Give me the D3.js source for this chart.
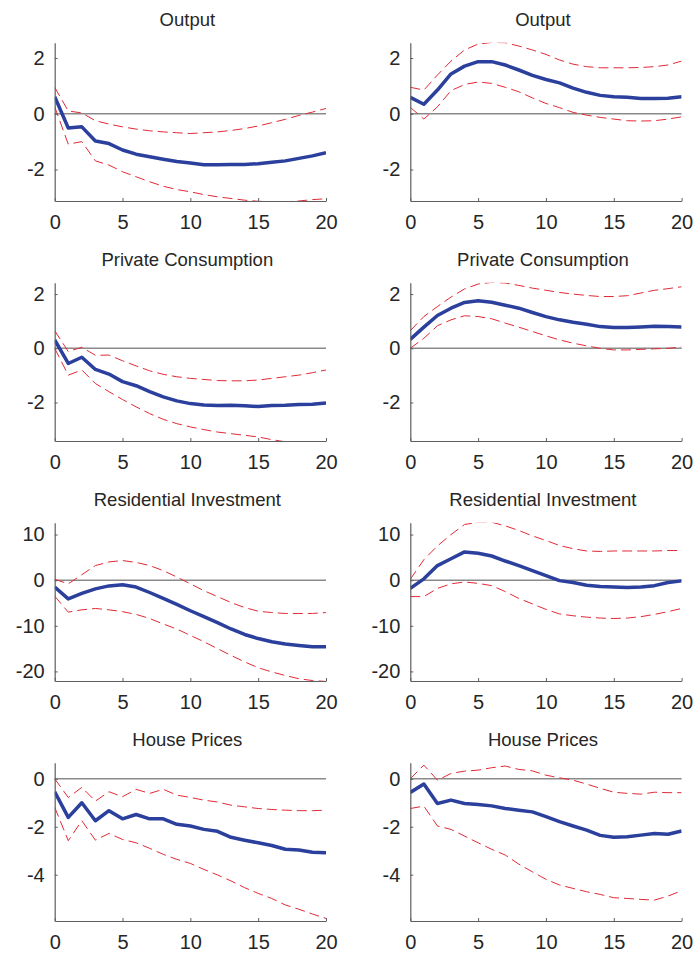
<!DOCTYPE html>
<html>
<head>
<meta charset="utf-8">
<script src="https://cdn.jsdelivr.net/npm/d3@7"></script>
<style>
  body { margin: 0; background: #fff; }
  svg { display: block; font-family: "Liberation Sans", Arial, sans-serif; }
  .tick text { fill: #262626; font-size: 20px; }
</style>
</head>
<body>
<div id="container"></div>
<script>
// horizon (quarters) and labels
const horizon = [0,1,2,3,4,5,6,7,8,9,10,11,12,13,14,15,16,17,18,19,20];
const titles = ["Output", "Private Consumption", "Residential Investment", "House Prices"];
const xTicks = [0, 5, 10, 15, 20];
const yTicks = [[-2, 0, 2], [-2, 0, 2], [-20, -10, 0, 10], [-4, -2, 0]];
const yLimits = [[-3.13, 2.55], [-3.42, 2.42], [-22.1, 12.6], [-5.93, 0.67]];

// left column: output
const outputL    = [0.61,-0.51,-0.47,-0.98,-1.07,-1.30,-1.45,-1.54,-1.63,-1.71,-1.77,-1.83,-1.83,-1.82,-1.82,-1.79,-1.74,-1.69,-1.60,-1.51,-1.40];
const outputLHi  = [0.95,0.10,0.03,-0.25,-0.37,-0.47,-0.55,-0.61,-0.65,-0.68,-0.71,-0.68,-0.65,-0.60,-0.53,-0.44,-0.32,-0.20,-0.06,0.06,0.19];
const outputLLo  = [0.25,-1.09,-1.00,-1.69,-1.84,-2.08,-2.26,-2.44,-2.60,-2.72,-2.80,-2.90,-2.98,-3.04,-3.10,-3.14,-3.16,-3.16,-3.13,-3.08,-3.05];
// right column: output
const outputR    = [0.59,0.34,0.85,1.43,1.71,1.87,1.87,1.75,1.57,1.38,1.23,1.11,0.92,0.77,0.66,0.61,0.59,0.55,0.55,0.56,0.61];
const outputRHi  = [0.95,0.85,1.39,1.89,2.29,2.50,2.56,2.55,2.43,2.29,2.13,1.93,1.78,1.69,1.65,1.65,1.65,1.66,1.69,1.75,1.89];
const outputRLo  = [0.23,-0.19,0.25,0.83,1.05,1.14,1.09,0.95,0.79,0.57,0.37,0.22,0.05,-0.05,-0.13,-0.19,-0.25,-0.26,-0.25,-0.19,-0.11];

// private consumption
const consL      = [0.31,-0.56,-0.33,-0.78,-0.95,-1.23,-1.38,-1.60,-1.79,-1.94,-2.04,-2.09,-2.11,-2.10,-2.12,-2.15,-2.11,-2.10,-2.07,-2.06,-2.02];
const consLHi    = [0.65,-0.12,0.04,-0.26,-0.25,-0.46,-0.65,-0.83,-0.96,-1.05,-1.11,-1.15,-1.19,-1.20,-1.20,-1.17,-1.11,-1.05,-0.99,-0.90,-0.80];
const consLLo    = [0.00,-0.99,-0.80,-1.30,-1.60,-1.89,-2.16,-2.41,-2.62,-2.78,-2.90,-3.00,-3.09,-3.15,-3.21,-3.27,-3.37,-3.45,-3.50,-3.48,-3.52];
const consR      = [0.33,0.78,1.21,1.48,1.69,1.75,1.70,1.59,1.48,1.32,1.17,1.05,0.96,0.89,0.80,0.77,0.77,0.79,0.81,0.80,0.79];
const consRHi    = [0.65,1.17,1.54,1.89,2.19,2.37,2.43,2.41,2.32,2.22,2.14,2.06,2.00,1.95,1.91,1.91,1.94,2.04,2.14,2.20,2.27];
const consRLo    = [0.00,0.37,0.83,1.05,1.20,1.17,1.09,0.93,0.78,0.62,0.46,0.31,0.19,0.09,0.00,-0.06,-0.06,-0.04,-0.02,0.00,0.05];

// residential investment
const invL       = [-1.5,-4.1,-2.9,-1.9,-1.25,-1.0,-1.5,-2.7,-4.0,-5.3,-6.7,-8.0,-9.3,-10.7,-11.9,-12.8,-13.5,-14.0,-14.3,-14.6,-14.6];
const invLHi     = [0.2,-0.8,1.2,3.2,4.0,4.3,3.9,3.2,2.1,0.7,-0.8,-2.3,-3.6,-4.9,-6.0,-6.8,-7.1,-7.3,-7.3,-7.3,-7.1];
const invLLo     = [-3.5,-7.0,-6.5,-6.2,-6.5,-6.9,-7.5,-8.4,-9.6,-10.7,-12.1,-13.5,-15.0,-16.5,-17.9,-19.2,-20.1,-20.9,-21.6,-22.0,-22.2];
const invR       = [-1.8,0.3,3.2,4.7,6.2,5.9,5.3,4.2,3.2,2.1,1.0,-0.1,-0.5,-1.1,-1.4,-1.5,-1.6,-1.5,-1.2,-0.5,-0.15];
const invRHi     = [0.2,4.5,7.5,10.0,12.2,12.7,12.7,11.9,10.9,9.7,8.7,7.6,6.9,6.4,6.3,6.4,6.4,6.4,6.4,6.5,6.5];
const invRLo     = [-3.6,-3.6,-1.8,-0.8,-0.4,-0.7,-1.2,-2.5,-4.0,-5.2,-6.4,-7.4,-7.8,-8.1,-8.3,-8.4,-8.3,-8.0,-7.5,-6.9,-6.2];

// house prices
const houseL     = [-0.54,-1.61,-1.00,-1.75,-1.33,-1.67,-1.49,-1.67,-1.67,-1.90,-1.97,-2.11,-2.19,-2.44,-2.56,-2.67,-2.78,-2.94,-2.97,-3.06,-3.08];
const houseLHi   = [0.00,-0.78,-0.36,-0.93,-0.54,-0.75,-0.44,-0.61,-0.44,-0.68,-0.78,-0.89,-0.97,-1.10,-1.17,-1.24,-1.28,-1.31,-1.33,-1.33,-1.31];
const houseLLo   = [-1.19,-2.58,-1.75,-2.56,-2.28,-2.53,-2.67,-2.90,-3.15,-3.36,-3.53,-3.78,-4.01,-4.26,-4.54,-4.78,-4.99,-5.26,-5.44,-5.64,-5.82];
const houseR     = [-0.57,-0.22,-1.03,-0.89,-1.03,-1.07,-1.13,-1.24,-1.31,-1.38,-1.58,-1.79,-1.97,-2.14,-2.36,-2.44,-2.42,-2.35,-2.28,-2.31,-2.18];
const houseRHi   = [0.00,0.57,-0.06,0.22,0.32,0.36,0.46,0.53,0.39,0.33,0.15,0.04,-0.06,-0.22,-0.40,-0.56,-0.61,-0.64,-0.56,-0.58,-0.58];
const houseRLo   = [-1.24,-1.14,-1.97,-2.11,-2.39,-2.67,-2.94,-3.18,-3.56,-3.88,-4.19,-4.43,-4.57,-4.71,-4.82,-4.96,-4.99,-5.03,-5.06,-4.89,-4.67];

const panels = [
  [[outputL, outputLHi, outputLLo], [outputR, outputRHi, outputRLo]],
  [[consL, consLHi, consLLo], [consR, consRHi, consRLo]],
  [[invL, invLHi, invLLo], [invR, invRHi, invRLo]],
  [[houseL, houseLHi, houseLLo], [houseR, houseRHi, houseRLo]]
];

// canvas and panel geometry
const w = 695, h = 956;
const colLeft = [54.7, 410.3];
const pw = 271.3, ph = 158.3;
const rowTop = 42.7, rowStep = 240;

const svg = d3.select("#container")
              .append("svg")
              .attr("width", w)
              .attr("height", h);

const xScale = d3.scaleLinear().domain([0, 20]).range([0, pw]);

panels.forEach(function(row, r) {
    row.forEach(function(series, c) {
        const yScale = d3.scaleLinear().domain(yLimits[r]).range([ph, 0]);
        const g = svg.append("g")
                     .attr("transform", "translate(" + colLeft[c] + "," + (rowTop + r * rowStep) + ")");

        const clipId = "clip-" + r + "-" + c;
        g.append("clipPath")
         .attr("id", clipId)
         .append("rect")
         .attr("x", 0).attr("y", 0)
         .attr("width", pw).attr("height", ph);

        // title
        g.append("text")
         .attr("x", pw / 2 - 3)
         .attr("y", -16.7)
         .attr("text-anchor", "middle")
         .style("font-size", "18.5px")
         .style("fill", "#262626")
         .text(titles[r]);

        // zero line
        g.append("line")
         .attr("x1", 0).attr("x2", pw)
         .attr("y1", yScale(0)).attr("y2", yScale(0))
         .attr("stroke", "#8a8a8a")
         .attr("stroke-width", 1.5);

        const line = d3.line()
                       .x((d, i) => xScale(horizon[i]))
                       .y((d) => yScale(d));

        const plot = g.append("g").attr("clip-path", "url(#" + clipId + ")");

        // confidence bands
        [series[1], series[2]].forEach(function(band) {
            plot.append("path")
                .datum(band)
                .attr("d", line)
                .attr("fill", "none")
                .attr("stroke", "#e02a36")
                .attr("stroke-width", 1)
                .attr("stroke-dasharray", "10,5");
        });

        // point estimate
        plot.append("path")
            .datum(series[0])
            .attr("d", line)
            .attr("fill", "none")
            .attr("stroke", "#2b3f9c")
            .attr("stroke-width", 3.5)
            .attr("stroke-linejoin", "round");

        // axes
        const xAxis = d3.axisBottom(xScale)
                        .tickValues(xTicks)
                        .tickFormat((d) => String(d))
                        .tickSizeInner(-3)
                        .tickSizeOuter(0)
                        .tickPadding(14);
        const yAxis = d3.axisLeft(yScale)
                        .tickValues(yTicks[r])
                        .tickFormat((d) => String(d))
                        .tickSizeInner(-3)
                        .tickSizeOuter(0)
                        .tickPadding(10);

        const gx = g.append("g")
                    .attr("transform", "translate(0," + ph + ")")
                    .call(xAxis);
        const gy = g.append("g").call(yAxis);

        [gx, gy].forEach(function(a) {
            a.select(".domain").attr("stroke", "#5e5e5e").attr("stroke-width", 1.2);
            a.selectAll(".tick line").attr("stroke", "#5e5e5e");
            a.selectAll(".tick text").style("font-family", "'Liberation Sans', Arial, sans-serif");
        });
    });
});
</script>
</body>
</html>
